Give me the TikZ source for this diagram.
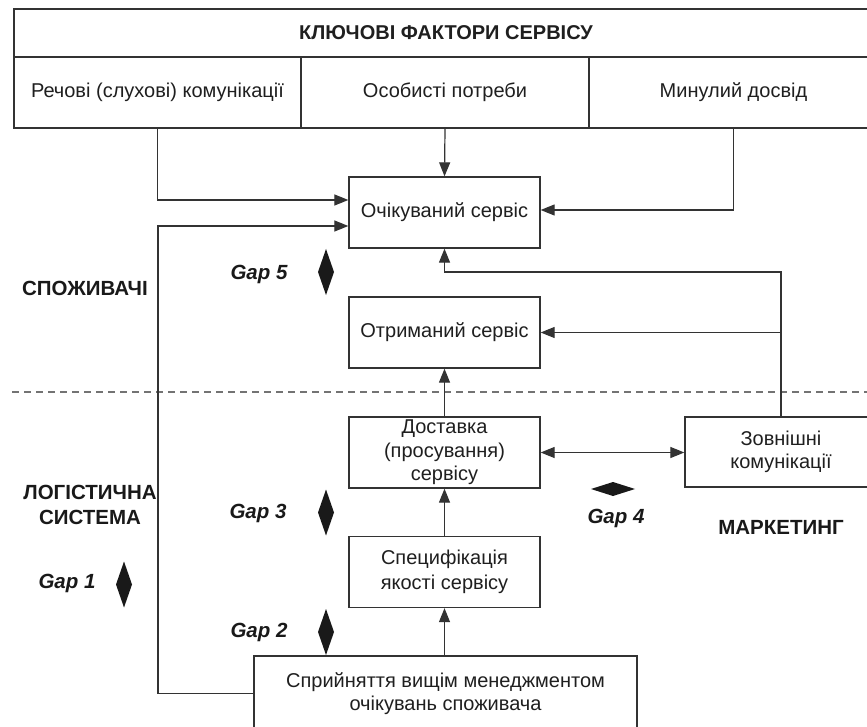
\documentclass[tikz,border=0pt]{standalone}
\usepackage{fontspec}
\setmainfont{Liberation Sans}
\usetikzlibrary{arrows.meta}
\begin{document}
\begin{tikzpicture}[x=1pt,y=-1pt,
  line width=1.1pt,
  cell/.style={draw=black!80, line width=1.3pt, inner sep=0pt, text=black!88,
    font=\fontsize{20}{24}\selectfont},
  box/.style={cell, minimum width=191pt, minimum height=71pt, align=center,
    font=\fontsize{20}{23.5}\selectfont},
  conn/.style={draw=black!80, line width=1.2pt},
  arr/.style={conn, -{Triangle[length=14pt,width=11pt]}},
  darr/.style={conn, {Triangle[length=14pt,width=11pt]}-{Triangle[length=14pt,width=11pt]}},
  lbl/.style={font=\fontsize{20.5}{25}\selectfont\bfseries, text=black!90, align=center},
  gaplbl/.style={font=\fontsize{20.5}{24}\selectfont\bfseries\itshape, text=black!90},
  vgap/.pic={\fill[black!90] (0,-23) -- (8,0) -- (0,23) -- (-8,0) -- cycle;},
  hgap/.pic={\fill[black!90] (-22,0) -- (0,-7) -- (22,0) -- (0,7) -- cycle;},
]
\fill[white] (0,0) rectangle (867,727);
\useasboundingbox (0,0) rectangle (867,727);

% key factors
\node[cell, minimum width=864pt, minimum height=48pt,
      font=\fontsize{20}{24}\selectfont\bfseries] (title) at (446,33) {КЛЮЧОВІ ФАКТОРИ СЕРВІСУ};
\node[cell, minimum width=287pt, minimum height=71pt] (c1) at (157.5,92.5) {Речові (слухові) комунікації};
\node[cell, minimum width=288pt, minimum height=71pt] (c2) at (445,92.5) {Особисті потреби};
\node[cell, minimum width=289pt, minimum height=71pt] (c3) at (733.5,92.5) {Минулий досвід};

% boxes
\node[box] (exp) at (444.5,212.5) {Очікуваний сервіс};
\node[box] (recv) at (444.5,332.5) {Отриманий сервіс};
\node[box] (deliv) at (444.5,452.5) {Доставка\\(просування)\\сервісу};
\node[box, font=\fontsize{20}{25}\selectfont] (spec) at (444.5,572) {Специфікація\\якості сервісу};
\node[box, minimum width=192pt, minimum height=70pt] (ext) at (781,452) {Зовнішні\\комунікації};
\node[box, minimum width=383pt, minimum height=75pt] (mgmt) at (445.5,693.5) {Сприйняття вищім менеджментом\\очікувань споживача};

% divider
\coordinate (dl) at (12,392);
\coordinate (dr) at (867,392);
\draw[draw=black!55, line width=1.1pt, dash pattern=on 7pt off 5pt] (dl) -- (dr);

% connectors
\draw[arr] (c1.south) |- (exp.west |- 0,200);
\draw[arr] (c2.south) -- (exp.north);
\draw[arr] (c3.south) |- (exp.east |- 0,210);
\coordinate (fb) at (158,226);
\draw[arr] (mgmt.west) -| (fb) -- (exp.west |- fb);
\draw[arr] (ext.north) -- (ext.north |- 0,272) -| (exp.south);
\draw[arr] (ext.north |- recv.east) -- (recv.east);
\draw[arr] (deliv.north) -- (recv.south);
\draw[arr] (spec.north) -- (deliv.south);
\draw[arr] (spec.south |- mgmt.north) -- (spec.south);
\draw[darr] (deliv.east) -- (ext.west |- deliv.east);

% labels
\node[lbl] (cons) at (85,288) {СПОЖИВАЧІ};
\node[lbl] (logi) at (90,504.5) {ЛОГІСТИЧНА\\СИСТЕМА};
\node[lbl] (mark) at (781,527) {МАРКЕТИНГ};

\node[gaplbl] (g5) at (259,274) {Gap 5};
\node[gaplbl] (g3) at (258,513) {Gap 3};
\node[gaplbl] (g2) at (259,632) {Gap 2};
\node[gaplbl] (g1) at (67,583) {Gap 1};
\node[gaplbl] (g4) at (616,518) {Gap 4};

\pic at (326,272) {vgap};
\pic at (326,512.5) {vgap};
\pic at (326,632) {vgap};
\pic at (124,584.5) {vgap};
\pic at (613,489) {hgap};
\end{tikzpicture}
\end{document}
